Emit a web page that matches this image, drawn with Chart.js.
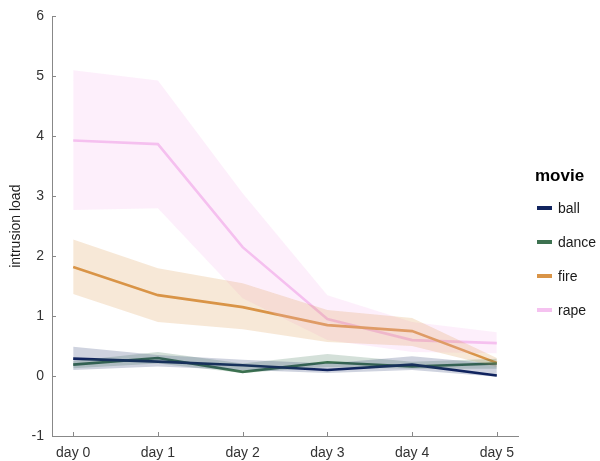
<!DOCTYPE html>
<html>
<head>
<meta charset="utf-8">
<script src="https://cdn.jsdelivr.net/npm/chart.js@4/dist/chart.umd.min.js"></script>
<style>
  html, body { margin: 0; padding: 0; background: #ffffff; }
  #wrap { width: 600px; height: 461px; }
</style>
</head>
<body>
<div id="wrap"><canvas id="c" width="600" height="461"></canvas></div>
<script>
// Days after viewing and intrusion load per movie (mean with lower/upper band)
const days = [0, 1, 2, 3, 4, 5];
const dayLabels = ['day 0', 'day 1', 'day 2', 'day 3', 'day 4', 'day 5'];
const movies = ['ball', 'dance', 'fire', 'rape'];

const ballMean  = [0.29, 0.24, 0.18, 0.10, 0.19, 0.01];
const ballLow   = [0.10, 0.16, 0.10, 0.05, 0.10, -0.01];
const ballHigh  = [0.49, 0.35, 0.27, 0.21, 0.33, 0.20];

const danceMean = [0.19, 0.30, 0.07, 0.23, 0.16, 0.21];
const danceLow  = [0.13, 0.21, 0.05, 0.15, 0.12, 0.12];
const danceHigh = [0.25, 0.40, 0.21, 0.37, 0.24, 0.29];

const fireMean  = [1.82, 1.35, 1.15, 0.85, 0.75, 0.22];
const fireLow   = [1.37, 0.90, 0.78, 0.57, 0.50, 0.15];
const fireHigh  = [2.28, 1.80, 1.55, 1.10, 0.97, 0.30];

const rapeMean  = [3.93, 3.87, 2.15, 0.95, 0.60, 0.55];
const rapeLow   = [2.77, 2.80, 1.30, 0.60, 0.40, 0.38];
const rapeHigh  = [5.10, 4.93, 3.05, 1.35, 0.90, 0.73];

const yTicks = [-1, 0, 1, 2, 3, 4, 5, 6];

const lineColors = ['#11245e', '#3d7150', '#d99447', '#f5c2f0'];
const bandColors = ['rgba(17,36,94,0.20)', 'rgba(61,113,80,0.22)', 'rgba(217,148,71,0.22)', 'rgba(245,190,240,0.24)'];

const means = [ballMean, danceMean, fireMean, rapeMean];
const lows  = [ballLow, danceLow, fireLow, rapeLow];
const highs = [ballHigh, danceHigh, fireHigh, rapeHigh];

const pts = arr => days.map((d, i) => ({ x: d, y: arr[i] }));

const datasets = [];
// shaded bands first
movies.forEach((m, k) => {
  datasets.push({
    label: m + ' upper', data: pts(highs[k]), borderWidth: 0, pointRadius: 0,
    backgroundColor: bandColors[k], fill: '+1', tension: 0, isBand: true
  });
  datasets.push({
    label: m + ' lower', data: pts(lows[k]), borderWidth: 0, pointRadius: 0,
    backgroundColor: bandColors[k], fill: false, tension: 0, isBand: true
  });
});
// mean lines on top
movies.forEach((m, k) => {
  datasets.push({
    label: m, data: pts(means[k]), borderColor: lineColors[k], borderWidth: 2.6,
    pointRadius: 0, fill: false, tension: 0, isBand: false
  });
});

const font = "'Liberation Sans', Arial, sans-serif";
const axisColor = '#888';

// Short tick marks pointing into the plot area
const innerTicks = {
  id: 'innerTicks',
  afterDraw(chart) {
    const { ctx, chartArea, scales } = chart;
    ctx.save();
    ctx.strokeStyle = axisColor;
    ctx.lineWidth = 1;
    ctx.beginPath();
    scales.x.ticks.forEach(t => {
      const x = Math.round(scales.x.getPixelForValue(t.value)) + 0.5;
      ctx.moveTo(x, chartArea.bottom);
      ctx.lineTo(x, chartArea.bottom - 4);
    });
    scales.y.ticks.forEach(t => {
      const y = Math.round(scales.y.getPixelForValue(t.value)) + 0.5;
      ctx.moveTo(chartArea.left, y);
      ctx.lineTo(chartArea.left + 4, y);
    });
    ctx.stroke();
    ctx.restore();
  }
};

// Legend drawn at the right of the plot, from the mean-line datasets
const sideLegend = {
  id: 'sideLegend',
  afterDraw(chart) {
    const ctx = chart.ctx;
    ctx.save();
    ctx.fillStyle = '#000';
    ctx.font = 'bold 17px ' + font;
    ctx.textBaseline = 'middle';
    ctx.textAlign = 'left';
    ctx.fillText('movie', 535, 176);
    const lines = chart.data.datasets.filter(d => !d.isBand);
    lines.forEach((ds, i) => {
      const y = 208 + i * 34;
      ctx.fillStyle = ds.borderColor;
      ctx.fillRect(537, y - 2, 15, 4);
      ctx.fillStyle = '#1a1a1a';
      ctx.font = '14px ' + font;
      ctx.fillText(ds.label, 558, y + 1);
    });
    ctx.restore();
  }
};

new Chart(document.getElementById('c'), {
  type: 'line',
  data: { datasets },
  options: {
    responsive: false,
    animation: false,
    devicePixelRatio: 1,
    layout: { padding: { left: 0, right: 82, top: 16, bottom: 0 } },
    plugins: { legend: { display: false }, tooltip: { enabled: false } },
    scales: {
      x: {
        type: 'linear', min: -0.25, max: 5.25,
        afterBuildTicks: s => { s.ticks = days.map(v => ({ value: v })); },
        afterFit: s => { s.height = 25; },
        grid: { drawOnChartArea: false, drawTicks: false },
        border: { display: true, color: axisColor, width: 1 },
        ticks: {
          color: '#333', font: { family: font, size: 14 }, padding: 9,
          callback: v => dayLabels[days.indexOf(v)]
        }
      },
      y: {
        type: 'linear', min: -1, max: 6,
        afterBuildTicks: s => { s.ticks = yTicks.map(v => ({ value: v })); },
        afterFit: s => { s.width = 52; },
        grid: { drawOnChartArea: false, drawTicks: false },
        border: { display: true, color: axisColor, width: 1 },
        ticks: { color: '#333', font: { family: font, size: 14 }, padding: 8 },
        title: { display: true, text: 'intrusion load', color: '#1a1a1a', font: { family: font, size: 14 }, padding: { top: 8, bottom: 0 } }
      }
    }
  },
  plugins: [innerTicks, sideLegend]
});
</script>
</body>
</html>
